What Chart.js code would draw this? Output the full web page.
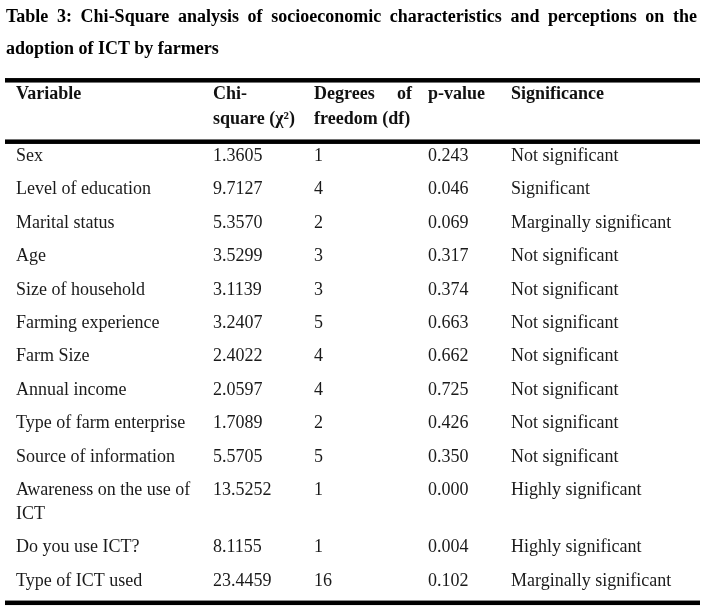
<!DOCTYPE html>
<html>
<head>
<meta charset="utf-8">
<title>Table 3: Chi-Square analysis</title>
<script src="https://cdn.jsdelivr.net/npm/chart.js"></script>
<style>
  html, body { margin: 0; padding: 0; background: #fff; }
  body { width: 704px; height: 614px; position: relative; overflow: hidden; }
  #title { position: absolute; left: 6px; top: 0; width: 691px; z-index: 2;
           font: bold 18px "Liberation Serif", "Times New Roman", serif; line-height: 32px; color: #000; }
  #title .l1 { text-align: justify; text-align-last: justify; }
  #table { position: absolute; left: 0; top: 0; }
</style>
</head>
<body>
<div id="title">
  <div class="l1">Table 3: Chi-Square analysis of socioeconomic characteristics and perceptions on the</div>
  <div>adoption of ICT by farmers</div>
</div>
<canvas id="table" width="704" height="614"></canvas>
<script>
// table data
const headers = [['Variable'], ['Chi-', 'square (\u03C7\u00B2)'], ['Degrees of', 'freedom (df)'], ['p-value'], ['Significance']];
const variables = ['Sex', 'Level of education', 'Marital status', 'Age', 'Size of household', 'Farming experience',
  'Farm Size', 'Annual income', 'Type of farm enterprise', 'Source of information', 'Awareness on the use of ICT',
  'Do you use ICT?', 'Type of ICT used'];
const chiSquare = [1.3605, 9.7127, 5.3570, 3.5299, 3.1139, 3.2407, 2.4022, 2.0597, 1.7089, 5.5705, 13.5252, 8.1155, 23.4459];
const degreesFreedom = [1, 4, 2, 3, 3, 5, 4, 4, 2, 5, 1, 1, 16];
const pValues = [0.243, 0.046, 0.069, 0.317, 0.374, 0.663, 0.662, 0.725, 0.426, 0.350, 0.000, 0.004, 0.102];
const significance = ['Not significant', 'Significant', 'Marginally significant', 'Not significant', 'Not significant',
  'Not significant', 'Not significant', 'Not significant', 'Not significant', 'Not significant', 'Highly significant',
  'Highly significant', 'Marginally significant'];

// layout (px units on the scales)
const BODY_FONT = '18px "Liberation Serif", "Times New Roman", serif';
const HEAD_FONT = 'bold 18px "Liberation Serif", "Times New Roman", serif';
const colStart = [11, 208, 309, 423, 506];
const colWidth = [189, 92, 98, 76, 185];
const RULE_W = 4.5;
const HEAD_BASE = 18.2, HEAD_LINE = 25, HEAD_RULE = 61.4;
const BODY_BASE = 80.7, ROW_PITCH = 33.4, WRAP_LINE = 24, BOTTOM_GAP = 17;

// word wrap the cells before building the chart
const meas = document.createElement('canvas').getContext('2d');
function wrap(text, width, font) {
  meas.font = font;
  const words = text.split(' ');
  const lines = [];
  let cur = '';
  words.forEach(w => {
    const t = cur ? cur + ' ' + w : w;
    if (cur && meas.measureText(t).width > width) { lines.push(cur); cur = w; }
    else cur = t;
  });
  lines.push(cur);
  return lines;
}

const rows = variables.map((v, i) => [
  wrap(v, colWidth[0], BODY_FONT),
  [chiSquare[i].toFixed(4)],
  [String(degreesFreedom[i])],
  [pValues[i].toFixed(3)],
  wrap(significance[i], colWidth[4], BODY_FONT)
]);
const rowBase = [];
let cursor = BODY_BASE;
rows.forEach(cells => {
  rowBase.push(cursor);
  const n = Math.max(...cells.map(c => c.length));
  cursor += ROW_PITCH + (n - 1) * WRAP_LINE;
});
const BOTTOM_RULE = rowBase[rowBase.length - 1] + (Math.max(...rows[rows.length - 1].map(c => c.length)) - 1) * WRAP_LINE + BOTTOM_GAP;

function justified(ctx, txt, px, py, width) {
  const words = txt.split(' ');
  const total = words.reduce((s, w) => s + ctx.measureText(w).width, 0);
  const gap = (width - total) / (words.length - 1);
  let xx = px;
  words.forEach(w => { ctx.fillText(w, xx, py); xx += ctx.measureText(w).width + gap; });
}

const tablePlugin = {
  id: 'tableCells',
  afterDraw(chart) {
    const { ctx, chartArea } = chart;
    const x = chart.scales.x, y = chart.scales.y;
    ctx.save();
    ctx.fillStyle = '#000';
    [0, HEAD_RULE, BOTTOM_RULE].forEach(v => {
      const py = y.getPixelForValue(v);
      ctx.fillRect(chartArea.left, py - RULE_W / 2, chartArea.right - chartArea.left, RULE_W);
    });
    ctx.textBaseline = 'alphabetic';
    ctx.textAlign = 'left';
    ctx.font = HEAD_FONT;
    ctx.fillStyle = '#111';
    headers.forEach((lines, c) => {
      const px = x.getPixelForValue(colStart[c]);
      lines.forEach((txt, i) => {
        const py = y.getPixelForValue(HEAD_BASE + i * HEAD_LINE);
        if (i < lines.length - 1 && txt.includes(' ')) justified(ctx, txt, px, py, colWidth[c]);
        else ctx.fillText(txt, px, py);
      });
    });
    ctx.font = BODY_FONT;
    ctx.fillStyle = '#1a1a1a';
    rows.forEach((cells, r) => {
      cells.forEach((lines, c) => {
        const px = x.getPixelForValue(colStart[c]);
        lines.forEach((txt, i) => {
          ctx.fillText(txt, px, y.getPixelForValue(rowBase[r] + i * WRAP_LINE));
        });
      });
    });
    ctx.restore();
  }
};

new Chart(document.getElementById('table'), {
  type: 'scatter',
  data: { datasets: [] },
  options: {
    responsive: false,
    animation: false,
    layout: { padding: { left: 5, right: 4, top: 80.3, bottom: 614 - 80.3 - BOTTOM_RULE } },
    plugins: { legend: { display: false }, tooltip: { enabled: false } },
    scales: {
      x: { type: 'linear', display: false, min: 0, max: 695 },
      y: { type: 'linear', display: false, reverse: true, min: 0, max: BOTTOM_RULE }
    }
  },
  plugins: [tablePlugin]
});
</script>
</body>
</html>
